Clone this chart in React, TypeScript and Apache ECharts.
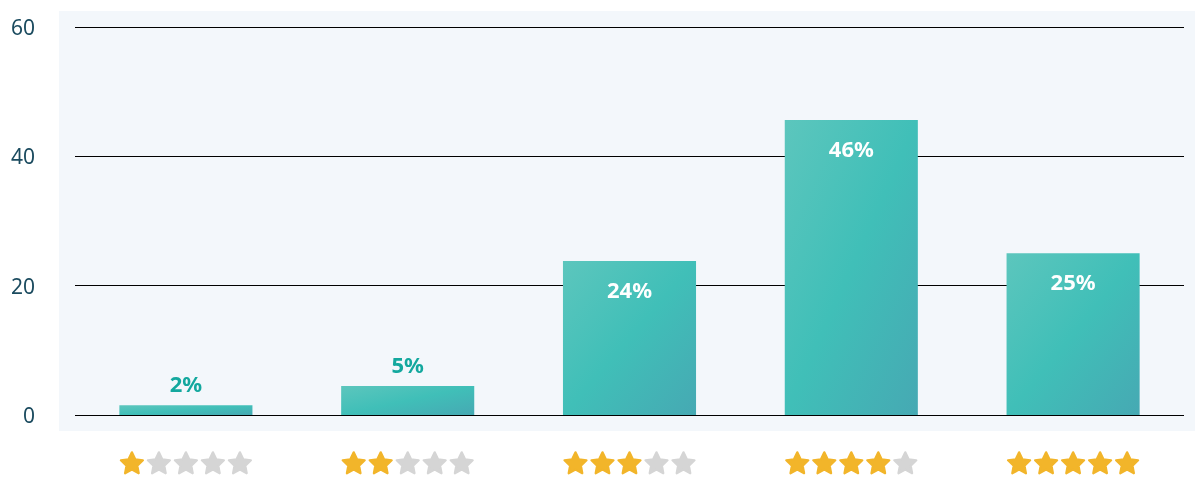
import React, { useEffect, useRef } from "react";
import * as echarts from "echarts";

const ratings = [1, 2, 3, 4, 5];
const values = [1.5, 4.5, 23.8, 45.6, 25.0];
const percentLabels = ["2%", "5%", "24%", "46%", "25%"];
const yTicks = [0, 20, 40, 60];

function starUrl(color: string): string {
  const cx = 13.5;
  const cy = 13.9;
  const pts: string[] = [];
  for (let k = 0; k < 10; k++) {
    const r = k % 2 === 0 ? 11.6 : 5.7;
    const a = ((-90 + k * 36) * Math.PI) / 180;
    pts.push((cx + r * Math.cos(a)).toFixed(2) + "," + (cy + r * Math.sin(a)).toFixed(2));
  }
  const svg =
    '<svg xmlns="http://www.w3.org/2000/svg" width="27" height="26" viewBox="0 0 27 26">' +
    '<polygon points="' + pts.join(" ") + '" fill="' + color + '" stroke="' + color +
    '" stroke-width="2.2" stroke-linejoin="round"/></svg>';
  return "data:image/svg+xml;charset=utf-8," + encodeURIComponent(svg);
}

export default function App() {
  const ref = useRef<HTMLDivElement>(null);
  useEffect(() => {
    if (!ref.current) return;
    const chart = echarts.init(ref.current, null, { renderer: "svg" });
    const gradient = new echarts.graphic.LinearGradient(0, 0, 1, 1, [
      { offset: 0, color: "#5cc6bd" },
      { offset: 0.5, color: "#40bfb8" },
      { offset: 1, color: "#46a9b3" },
    ]);
    const data = values.map((v) => ({
      value: v,
      label:
        v < 10
          ? { position: "top", distance: 11, color: "#13a89e" }
          : { position: "insideTop", distance: 17, color: "#ffffff" },
    }));
    const gold = starUrl("#f2b52a");
    const grey = starUrl("#d5d5d5");
    chart.setOption({
      animation: false,
      graphic: [
        {
          type: "rect",
          left: 59,
          top: 11,
          shape: { width: 1136, height: 420 },
          style: { fill: "#f3f7fb" },
          z: -10,
        },
      ],
      grid: { left: 75, right: 11, top: 27, bottom: 63 },
      xAxis: {
        type: "category",
        data: ratings.map(String),
        axisLine: { show: false },
        axisTick: { show: false },
        axisLabel: {
          margin: 35,
          formatter: (val: string) => {
            const n = Number(val);
            let s = "";
            for (let i = 0; i < 5; i++) s += i < n ? "{on|}" : "{off|}";
            return s;
          },
          rich: {
            on: { width: 27, height: 26, backgroundColor: { image: gold } },
            off: { width: 27, height: 26, backgroundColor: { image: grey } },
          },
        },
      },
      yAxis: {
        type: "value",
        min: yTicks[0],
        max: yTicks[yTicks.length - 1],
        interval: 20,
        axisLine: { show: false },
        axisTick: { show: false },
        axisLabel: {
          margin: 40,
          color: "#1b4b5f",
          fontSize: 21,
          fontFamily: "Noto Sans",
        },
        splitLine: { lineStyle: { color: "#000000", width: 1 } },
      },
      series: [
        {
          type: "bar",
          data,
          barWidth: "60%",
          itemStyle: { color: gradient },
          label: {
            show: true,
            fontSize: 22,
            fontWeight: "bold",
            fontFamily: "Noto Sans",
            formatter: (p: any) => percentLabels[p.dataIndex],
          },
        },
      ],
    });
    return () => chart.dispose();
  }, []);
  return (
    <div
      ref={ref}
      style={{ position: "fixed", left: 0, top: 0, width: 1195, height: 478 }}
    />
  );
}
